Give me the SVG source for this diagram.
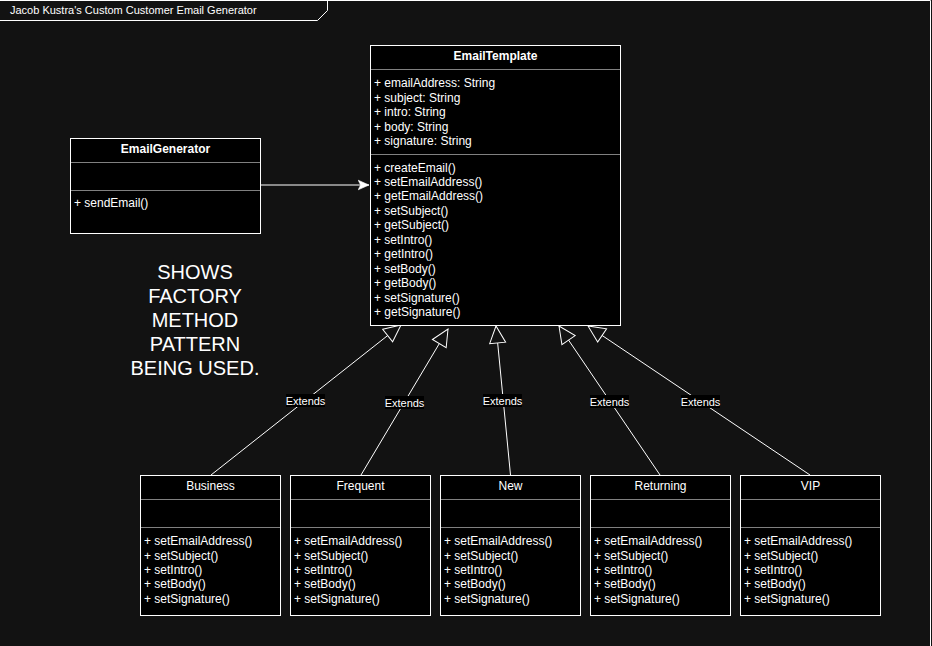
<svg xmlns="http://www.w3.org/2000/svg" width="932" height="646" viewBox="0 0 932 646">
<defs>
<style>
text{font-family:"Liberation Sans",Arial,Helvetica,sans-serif;fill:#fff}
.box{fill:#000;stroke:#fff;stroke-width:1}
.div{stroke:#808080;stroke-width:1}
.t{font-size:12px}
.b{font-weight:bold;text-anchor:middle}
.c{text-anchor:middle}
.conn{stroke:#fff;stroke-width:1;fill:none}
.lbl{fill:#000}
.lt{font-size:11px;text-anchor:middle}
</style>
<marker id="tri" markerUnits="userSpaceOnUse" markerWidth="20" markerHeight="20" refX="17" refY="8" orient="auto" viewBox="-1 -1 20 18">
<path d="M0,0 L17,8 L0,16 Z" fill="#121212" stroke="#fff" stroke-width="1"/>
</marker>
<marker id="cls" markerUnits="userSpaceOnUse" markerWidth="12" markerHeight="12" refX="9" refY="4" orient="auto" viewBox="0 0 10 8">
<path d="M0,0 L9,4 L0,8 L2,4 Z" fill="#fff" stroke="#fff" stroke-width="0.5"/>
</marker>
</defs>
<rect x="0" y="0" width="932" height="646" fill="#121212"/>
<g id="frame">
<path d="M0,0.5 H930.5 V646" fill="none" stroke="#fff"/>
<path d="M0,0.5 H327.5 V10.5 L317.5,20.5 H0" fill="none" stroke="#fff"/>
<text x="10" y="14" font-size="11px">Jacob Kustra's Custom Customer Email Generator</text>
</g>
<g id="connectors">
<path class="conn" d="M260,185 H369" marker-end="url(#cls)"/>
<path class="conn" d="M211,475 L401,325" marker-end="url(#tri)"/>
<path class="conn" d="M361,475 L448,329" marker-end="url(#tri)"/>
<path class="conn" d="M510.5,475 L496,326" marker-end="url(#tri)"/>
<path class="conn" d="M660,475 L559,326" marker-end="url(#tri)"/>
<path class="conn" d="M810,475 L588,326" marker-end="url(#tri)"/>
<rect class="lbl" x="286" y="394" width="39" height="13"/>
<text class="lt" x="305.5" y="404.5">Extends</text>
<rect class="lbl" x="385" y="396" width="39" height="13"/>
<text class="lt" x="404.5" y="406.5">Extends</text>
<rect class="lbl" x="483" y="394" width="39" height="13"/>
<text class="lt" x="502.5" y="404.5">Extends</text>
<rect class="lbl" x="590" y="395" width="39" height="13"/>
<text class="lt" x="609.5" y="405.5">Extends</text>
<rect class="lbl" x="681" y="395" width="39" height="13"/>
<text class="lt" x="700.5" y="405.5">Extends</text>
</g>
<g id="EmailTemplate">
<rect class="box" x="370.5" y="45.5" width="250" height="280"/>
<line class="div" x1="371" y1="69.5" x2="620" y2="69.5"/>
<line class="div" x1="371" y1="154.5" x2="620" y2="154.5"/>
<text class="t b" x="495.5" y="60">EmailTemplate</text>
<g class="t">
<text x="374" y="87">+ emailAddress: String</text>
<text x="374" y="101.5">+ subject: String</text>
<text x="374" y="116">+ intro: String</text>
<text x="374" y="130.5">+ body: String</text>
<text x="374" y="145">+ signature: String</text>
<text x="374" y="171.5">+ createEmail()</text>
<text x="374" y="186">+ setEmailAddress()</text>
<text x="374" y="200.4">+ getEmailAddress()</text>
<text x="374" y="214.8">+ setSubject()</text>
<text x="374" y="229.3">+ getSubject()</text>
<text x="374" y="243.7">+ setIntro()</text>
<text x="374" y="258.2">+ getIntro()</text>
<text x="374" y="272.6">+ setBody()</text>
<text x="374" y="287.1">+ getBody()</text>
<text x="374" y="301.5">+ setSignature()</text>
<text x="374" y="316">+ getSignature()</text>
</g>
</g>
<g id="EmailGenerator">
<rect class="box" x="70.5" y="138.5" width="190" height="95"/>
<line class="div" x1="71" y1="162.5" x2="260" y2="162.5"/>
<line class="div" x1="71" y1="190.5" x2="260" y2="190.5"/>
<text class="t b" x="165.5" y="153">EmailGenerator</text>
<text class="t" x="74" y="207">+ sendEmail()</text>
</g>
<g id="note">
<text x="195" y="279" font-size="20px" class="c">SHOWS</text>
<text x="195" y="303" font-size="20px" class="c">FACTORY</text>
<text x="195" y="327" font-size="20px" class="c">METHOD</text>
<text x="195" y="351" font-size="20px" class="c">PATTERN</text>
<text x="195" y="375" font-size="20px" class="c">BEING USED.</text>
</g>
<g id="Business">
<rect class="box" x="140.5" y="475.5" width="140" height="140"/>
<line class="div" x1="141" y1="499.5" x2="280" y2="499.5"/>
<line class="div" x1="141" y1="527.5" x2="280" y2="527.5"/>
<text class="t c" x="210.5" y="490">Business</text>
<g class="t">
<text x="144" y="545">+ setEmailAddress()</text>
<text x="144" y="559.5">+ setSubject()</text>
<text x="144" y="574">+ setIntro()</text>
<text x="144" y="588.3">+ setBody()</text>
<text x="144" y="602.5">+ setSignature()</text>
</g>
</g>
<g id="Frequent">
<rect class="box" x="290.5" y="475.5" width="140" height="140"/>
<line class="div" x1="291" y1="499.5" x2="430" y2="499.5"/>
<line class="div" x1="291" y1="527.5" x2="430" y2="527.5"/>
<text class="t c" x="360.5" y="490">Frequent</text>
<g class="t">
<text x="294" y="545">+ setEmailAddress()</text>
<text x="294" y="559.5">+ setSubject()</text>
<text x="294" y="574">+ setIntro()</text>
<text x="294" y="588.3">+ setBody()</text>
<text x="294" y="602.5">+ setSignature()</text>
</g>
</g>
<g id="New">
<rect class="box" x="440.5" y="475.5" width="140" height="140"/>
<line class="div" x1="441" y1="499.5" x2="580" y2="499.5"/>
<line class="div" x1="441" y1="527.5" x2="580" y2="527.5"/>
<text class="t c" x="510.5" y="490">New</text>
<g class="t">
<text x="444" y="545">+ setEmailAddress()</text>
<text x="444" y="559.5">+ setSubject()</text>
<text x="444" y="574">+ setIntro()</text>
<text x="444" y="588.3">+ setBody()</text>
<text x="444" y="602.5">+ setSignature()</text>
</g>
</g>
<g id="Returning">
<rect class="box" x="590.5" y="475.5" width="140" height="140"/>
<line class="div" x1="591" y1="499.5" x2="730" y2="499.5"/>
<line class="div" x1="591" y1="527.5" x2="730" y2="527.5"/>
<text class="t c" x="660.5" y="490">Returning</text>
<g class="t">
<text x="594" y="545">+ setEmailAddress()</text>
<text x="594" y="559.5">+ setSubject()</text>
<text x="594" y="574">+ setIntro()</text>
<text x="594" y="588.3">+ setBody()</text>
<text x="594" y="602.5">+ setSignature()</text>
</g>
</g>
<g id="VIP">
<rect class="box" x="740.5" y="475.5" width="140" height="140"/>
<line class="div" x1="741" y1="499.5" x2="880" y2="499.5"/>
<line class="div" x1="741" y1="527.5" x2="880" y2="527.5"/>
<text class="t c" x="810.5" y="490">VIP</text>
<g class="t">
<text x="744" y="545">+ setEmailAddress()</text>
<text x="744" y="559.5">+ setSubject()</text>
<text x="744" y="574">+ setIntro()</text>
<text x="744" y="588.3">+ setBody()</text>
<text x="744" y="602.5">+ setSignature()</text>
</g>
</g>
</svg>
